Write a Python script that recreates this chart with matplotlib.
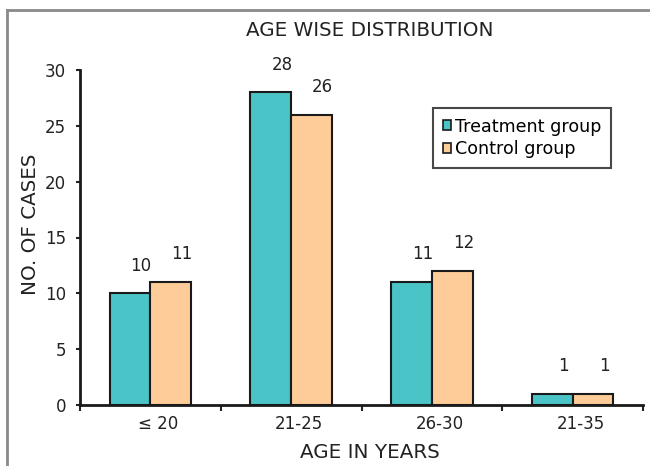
import matplotlib
matplotlib.use("Agg")
import matplotlib.pyplot as plt
import matplotlib.transforms as mtransforms
from matplotlib.lines import Line2D
import numpy as np

plt.rcParams['font.family'] = ['DejaVu Sans']

categories = ["\u2264 20", "21-25", "26-30", "21-35"]
treatment = [10, 28, 11, 1]
control = [11, 26, 12, 1]
series_names = ["Treatment group", "Control group"]
y_ticks = [0, 5, 10, 15, 20, 25, 30]

teal = "#4BC4C7"
peach = "#FECC98"
ink = "#222222"

fig = plt.figure(figsize=(6.5, 4.66), dpi=100)
ax = fig.add_axes([80 / 650, 1 - 405 / 466, (643 - 80) / 650, (405 - 70) / 466])

x = np.arange(len(categories))
w = 0.29
b1 = ax.bar(x - w / 2, treatment, w, color=teal, edgecolor="#1a1a1a", linewidth=1.5,
            label=series_names[0], zorder=3)
b2 = ax.bar(x + w / 2, control, w, color=peach, edgecolor="#1a1a1a", linewidth=1.5,
            label=series_names[1], zorder=3)

# value labels above each bar
for bars, vals in ((b1, treatment), (b2, control)):
    for rect, v in zip(bars, vals):
        ax.annotate(str(v), (rect.get_x() + rect.get_width() / 2, v),
                    xytext=(8, 20), textcoords="offset points",
                    ha="center", va="center", fontsize=12, color=ink)

ax.set_xlim(-0.5, len(categories) - 0.5)
ax.set_ylim(0, 30)
ax.set_yticks(y_ticks)
ax.tick_params(axis="y", direction="out", length=3, width=1.5, labelsize=12,
               pad=7, colors=ink)

# category separators as ticks, labels centred in each group
ax.set_xticks(np.arange(-0.5, len(categories)), minor=False)
ax.set_xticklabels([])
ax.set_xticks(x, minor=True)
ax.set_xticklabels(categories, minor=True)
ax.tick_params(axis="x", which="major", direction="out", length=4, width=1.5, colors=ink)
ax.tick_params(axis="x", which="minor", length=0, labelsize=12, pad=7, labelcolor=ink)
shift = mtransforms.ScaledTranslation(8 / 100, 0, fig.dpi_scale_trans)
for lbl in ax.get_xticklabels(minor=True):
    lbl.set_transform(lbl.get_transform() + shift)

for s in ("top", "right"):
    ax.spines[s].set_visible(False)
for s in ("left", "bottom"):
    ax.spines[s].set_linewidth(2)
    ax.spines[s].set_color("#1a1a1a")

fig.text(370 / 650, 1 - 31 / 466, "AGE WISE DISTRIBUTION", ha="center", va="center",
         fontsize=14.3, color=ink)
fig.text(370 / 650, 1 - 452 / 466, "AGE IN YEARS", ha="center", va="center",
         fontsize=14.3, color=ink)
fig.text(30 / 650, 1 - 224 / 466, "NO. OF CASES", ha="center", va="center",
         rotation=90, fontsize=14.3, color=ink)

leg = ax.legend(loc="upper left", bbox_to_anchor=((433 - 80) / 563, (405 - 108) / 335),
                fontsize=12.6, frameon=True, fancybox=False, handlelength=0.5,
                handleheight=0.5, handletextpad=0.2, borderpad=0.55,
                labelspacing=0.25, borderaxespad=0)
leg.get_frame().set_edgecolor("#1a1a1a")
leg.get_frame().set_linewidth(1.5)
for h in leg.legend_handles:
    h.set_linewidth(1.2)

# outer frame (left and top edges)
fig.add_artist(Line2D([7 / 650, 7 / 650], [0, 1 - 10 / 466], transform=fig.transFigure,
                      color="#8a8a8a", linewidth=2))
fig.add_artist(Line2D([7 / 650, 1], [1 - 10 / 466, 1 - 10 / 466], transform=fig.transFigure,
                      color="#8a8a8a", linewidth=2))

fig.savefig("out.png", dpi=100)
